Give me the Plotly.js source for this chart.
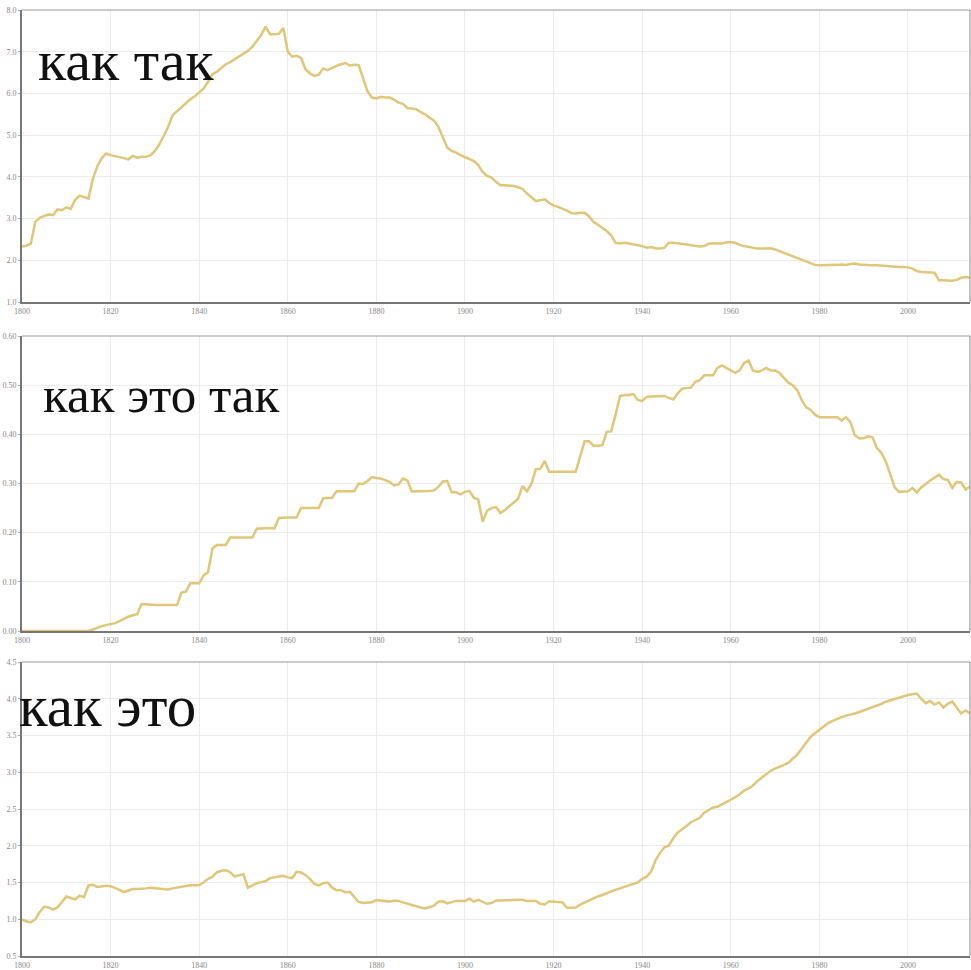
<!DOCTYPE html>
<html>
<head>
<meta charset="utf-8">
<script src="https://cdn.plot.ly/plotly-3.0.1.min.js"></script>
<style>html,body{margin:0;padding:0;background:#fff;}#chart{width:971px;height:970px;}</style>
</head>
<body>
<div id="chart"></div>
<script>
const firstYear = 1800, lastYear = 2014;
const labels = ["как так", "как это так", "как это"];

const kakTak = [
  2.33, 2.35, 2.4, 2.92, 3.02, 3.06, 3.1, 3.08, 3.22, 3.2,
  3.27, 3.23, 3.45, 3.55, 3.52, 3.48, 3.95, 4.25, 4.45, 4.56,
  4.52, 4.5, 4.48, 4.45, 4.42, 4.5, 4.46, 4.48, 4.48, 4.52,
  4.62, 4.78, 4.98, 5.2, 5.48, 5.58, 5.68, 5.78, 5.86, 5.93,
  6.02, 6.12, 6.28, 6.46, 6.52, 6.6, 6.7, 6.75, 6.82, 6.88,
  6.95, 7.02, 7.12, 7.25, 7.4, 7.6, 7.42, 7.42, 7.43, 7.57,
  7.0, 6.88, 6.9, 6.85, 6.58, 6.48, 6.42, 6.45, 6.6, 6.56,
  6.62, 6.66, 6.7, 6.73, 6.67, 6.69, 6.68, 6.35, 6.05, 5.9,
  5.88, 5.92, 5.9, 5.9, 5.85, 5.78, 5.75, 5.65, 5.63, 5.62,
  5.55, 5.5, 5.42, 5.35, 5.2, 4.95, 4.7, 4.62, 4.58, 4.52,
  4.47, 4.42, 4.38, 4.28, 4.12, 4.02, 3.98, 3.88, 3.8, 3.8,
  3.79, 3.78, 3.75, 3.71, 3.6, 3.5, 3.42, 3.44, 3.46, 3.38,
  3.31, 3.28, 3.24, 3.19, 3.13, 3.12, 3.14, 3.14, 3.05, 2.92,
  2.85, 2.78, 2.7, 2.6, 2.42, 2.4, 2.42, 2.4, 2.38, 2.35,
  2.34, 2.3, 2.32, 2.29, 2.28, 2.3, 2.42, 2.42, 2.41, 2.4,
  2.38, 2.36, 2.34, 2.33, 2.34, 2.4, 2.41, 2.4, 2.4, 2.43,
  2.44, 2.42, 2.37, 2.34, 2.32, 2.3, 2.28, 2.28, 2.29, 2.29,
  2.26, 2.22, 2.18, 2.13, 2.09, 2.06, 2.02, 1.98, 1.93, 1.89,
  1.88, 1.88, 1.88, 1.88, 1.89, 1.9, 1.89, 1.91, 1.92, 1.9,
  1.89, 1.88, 1.88, 1.88, 1.87, 1.86, 1.86, 1.85, 1.84, 1.84,
  1.83, 1.8, 1.74, 1.72, 1.72, 1.71, 1.7, 1.52, 1.52, 1.51,
  1.51, 1.53, 1.58, 1.6, 1.58
];

const kakEtoTak = [
  0, 0, 0, 0, 0, 0, 0, 0, 0, 0,
  0, 0, 0, 0, 0, 0, 0.003, 0.007, 0.01, 0.012,
  0.014, 0.016, 0.02, 0.025, 0.029, 0.032, 0.034, 0.055, 0.054, 0.053,
  0.053, 0.053, 0.053, 0.053, 0.053, 0.053, 0.078, 0.08, 0.097, 0.097,
  0.097, 0.113, 0.12, 0.168, 0.175, 0.175, 0.175, 0.19, 0.19, 0.19,
  0.19, 0.19, 0.19, 0.208, 0.209, 0.209, 0.209, 0.209, 0.23, 0.231,
  0.231, 0.231, 0.231, 0.25, 0.25, 0.25, 0.25, 0.25, 0.27, 0.271,
  0.271, 0.284, 0.284, 0.284, 0.284, 0.284, 0.3, 0.299, 0.305, 0.313,
  0.311, 0.31, 0.307, 0.303, 0.296, 0.298, 0.31, 0.306, 0.284, 0.284,
  0.285, 0.285, 0.285, 0.286, 0.293, 0.304, 0.305, 0.282, 0.282, 0.278,
  0.283, 0.285, 0.271, 0.267, 0.222, 0.245, 0.25, 0.252, 0.24, 0.246,
  0.254, 0.26, 0.269, 0.295, 0.284, 0.299, 0.329, 0.33, 0.346, 0.324,
  0.324, 0.324, 0.324, 0.324, 0.324, 0.324, 0.355, 0.386, 0.386, 0.377,
  0.377, 0.378, 0.405, 0.406, 0.44, 0.478, 0.48, 0.48, 0.482, 0.47,
  0.468, 0.476, 0.477, 0.477, 0.478, 0.478, 0.474, 0.471, 0.483, 0.493,
  0.494, 0.495, 0.507, 0.51, 0.52, 0.52, 0.52, 0.535, 0.54, 0.535,
  0.53, 0.525, 0.53, 0.545, 0.55, 0.53, 0.527, 0.53, 0.535, 0.53,
  0.53, 0.525, 0.515, 0.505, 0.5, 0.49, 0.47, 0.455, 0.45, 0.44,
  0.435, 0.435, 0.435, 0.435, 0.435, 0.428, 0.435, 0.425, 0.398, 0.392,
  0.392, 0.396, 0.394, 0.372, 0.362, 0.345, 0.32, 0.292, 0.283, 0.283,
  0.284, 0.291, 0.282, 0.292, 0.3, 0.306, 0.312, 0.318, 0.309, 0.307,
  0.291, 0.303, 0.302, 0.288, 0.294
];

const kakEto = [
  1.0, 0.97, 0.96, 1.0, 1.1, 1.17, 1.16, 1.13, 1.16, 1.24,
  1.31, 1.29, 1.27, 1.32, 1.3, 1.46, 1.47, 1.44, 1.45, 1.455,
  1.45, 1.43, 1.4, 1.37, 1.39, 1.41, 1.41, 1.41, 1.42, 1.43,
  1.425, 1.42, 1.41, 1.405, 1.42, 1.43, 1.44, 1.455, 1.464, 1.464,
  1.465, 1.5, 1.55, 1.58, 1.64, 1.66, 1.667, 1.64, 1.58, 1.6,
  1.61, 1.43, 1.46, 1.49, 1.505, 1.52, 1.56, 1.57, 1.58, 1.59,
  1.57, 1.56, 1.645, 1.636, 1.6, 1.55, 1.48, 1.46, 1.49, 1.5,
  1.43, 1.396, 1.396, 1.365, 1.373, 1.3, 1.235, 1.22, 1.225, 1.23,
  1.26, 1.25, 1.245, 1.24, 1.255, 1.25, 1.23, 1.21, 1.19, 1.175,
  1.16, 1.147, 1.165, 1.185, 1.24, 1.245, 1.215, 1.23, 1.25, 1.25,
  1.25, 1.28, 1.24, 1.265, 1.24, 1.21, 1.22, 1.255, 1.255, 1.26,
  1.26, 1.26, 1.265, 1.265, 1.247, 1.247, 1.247, 1.21, 1.2, 1.245,
  1.24, 1.235, 1.23, 1.156, 1.156, 1.16, 1.2, 1.23, 1.26, 1.285,
  1.31, 1.33, 1.36, 1.38, 1.4, 1.42, 1.43, 1.45, 1.48, 1.5,
  1.55, 1.58, 1.65, 1.8, 1.9, 1.98, 2.0, 2.1, 2.18, 2.22,
  2.27, 2.32, 2.35, 2.38, 2.45, 2.48, 2.52, 2.53, 2.56, 2.6,
  2.63, 2.66, 2.7, 2.75, 2.78, 2.82, 2.88, 2.93, 2.97, 3.02,
  3.05, 3.07, 3.1, 3.13, 3.18, 3.24, 3.32, 3.4, 3.48, 3.53,
  3.58, 3.63, 3.67, 3.7, 3.73, 3.75, 3.77, 3.78, 3.8, 3.82,
  3.84, 3.86, 3.88, 3.9, 3.93, 3.96, 3.98, 4.0, 4.02, 4.04,
  4.05, 4.06, 4.07, 4.0, 3.94, 3.97, 3.92, 3.95, 3.88, 3.93,
  3.96, 3.88, 3.8, 3.84, 3.8
];

const years = [];
for (let y = firstYear; y <= lastYear; y++) years.push(y);

const W = 971, H = 970;
const px = v => v / W;
const py = v => 1 - v / H;

const lineStyle = {color: '#dfc679', width: 2.5};
const series = [kakTak, kakEtoTak, kakEto];
const traces = series.map((s, i) => ({
  x: years, y: s, type: 'scatter', mode: 'lines',
  line: lineStyle, hoverinfo: 'skip',
  xaxis: i === 0 ? 'x' : 'x' + (i + 1),
  yaxis: i === 0 ? 'y' : 'y' + (i + 1)
}));

const tickFont = {family: 'Liberation Serif, Times New Roman, serif', size: 8, color: '#888'};
function xAxis(anchor) {
  return {
    domain: [px(22), px(970)], range: [1800, 2014], anchor: anchor,
    tick0: 1800, dtick: 20, showgrid: true, gridcolor: '#ececec', gridwidth: 1,
    zeroline: false, showline: true, linecolor: '#777', linewidth: 2,
    ticks: '', tickfont: tickFont, fixedrange: true
  };
}
function yAxis(anchor, dom, range, dtick, fmt) {
  return {
    domain: [py(dom[1]), py(dom[0])], range: range, anchor: anchor,
    dtick: dtick, tick0: range[0], tickformat: fmt,
    showgrid: true, gridcolor: '#ececec', gridwidth: 1,
    zeroline: false, showline: true, linecolor: '#777', linewidth: 2,
    ticks: 'outside', ticklen: 2, tickcolor: '#aaa', tickfont: tickFont, fixedrange: true
  };
}

const doms = [[10, 302], [336, 631], [662, 956]];
const axNames = [['x', 'y'], ['x2', 'y2'], ['x3', 'y3']];
const shapes = [];
doms.forEach((d, i) => {
  const xr = axNames[i][0] + ' domain', yr = axNames[i][1] + ' domain';
  shapes.push({type: 'line', xref: xr, yref: yr, x0: 0, x1: 1, y0: 1, y1: 1, line: {color: '#999', width: 1}});
  shapes.push({type: 'line', xref: xr, yref: yr, x0: 1, x1: 1, y0: 0, y1: 1, line: {color: '#888', width: 1}});
});

const fontFamily = 'Liberation Serif, Times New Roman, serif';
const annPos = [[36, 60, 58], [41, 395, 51], [17, 706, 59]];
const annotations = labels.map((t, i) => ({
  text: t, xref: 'paper', yref: 'paper', x: px(annPos[i][0]), y: py(annPos[i][1]),
  xanchor: 'left', yanchor: 'middle', showarrow: false,
  font: {family: fontFamily, size: annPos[i][2], color: '#111'}
}));

const layout = {
  width: W, height: H, margin: {l: 0, r: 0, t: 0, b: 0},
  paper_bgcolor: '#fff', plot_bgcolor: '#fff', showlegend: false,
  xaxis: xAxis('y'), xaxis2: xAxis('y2'), xaxis3: xAxis('y3'),
  yaxis: yAxis('x', doms[0], [1, 8], 1, '.1f'),
  yaxis2: yAxis('x2', doms[1], [0, 0.6], 0.1, '.2f'),
  yaxis3: yAxis('x3', doms[2], [0.5, 4.5], 0.5, '.1f'),
  shapes: shapes, annotations: annotations
};

Plotly.newPlot('chart', traces, layout, {displayModeBar: false, staticPlot: true});
</script>
</body>
</html>
